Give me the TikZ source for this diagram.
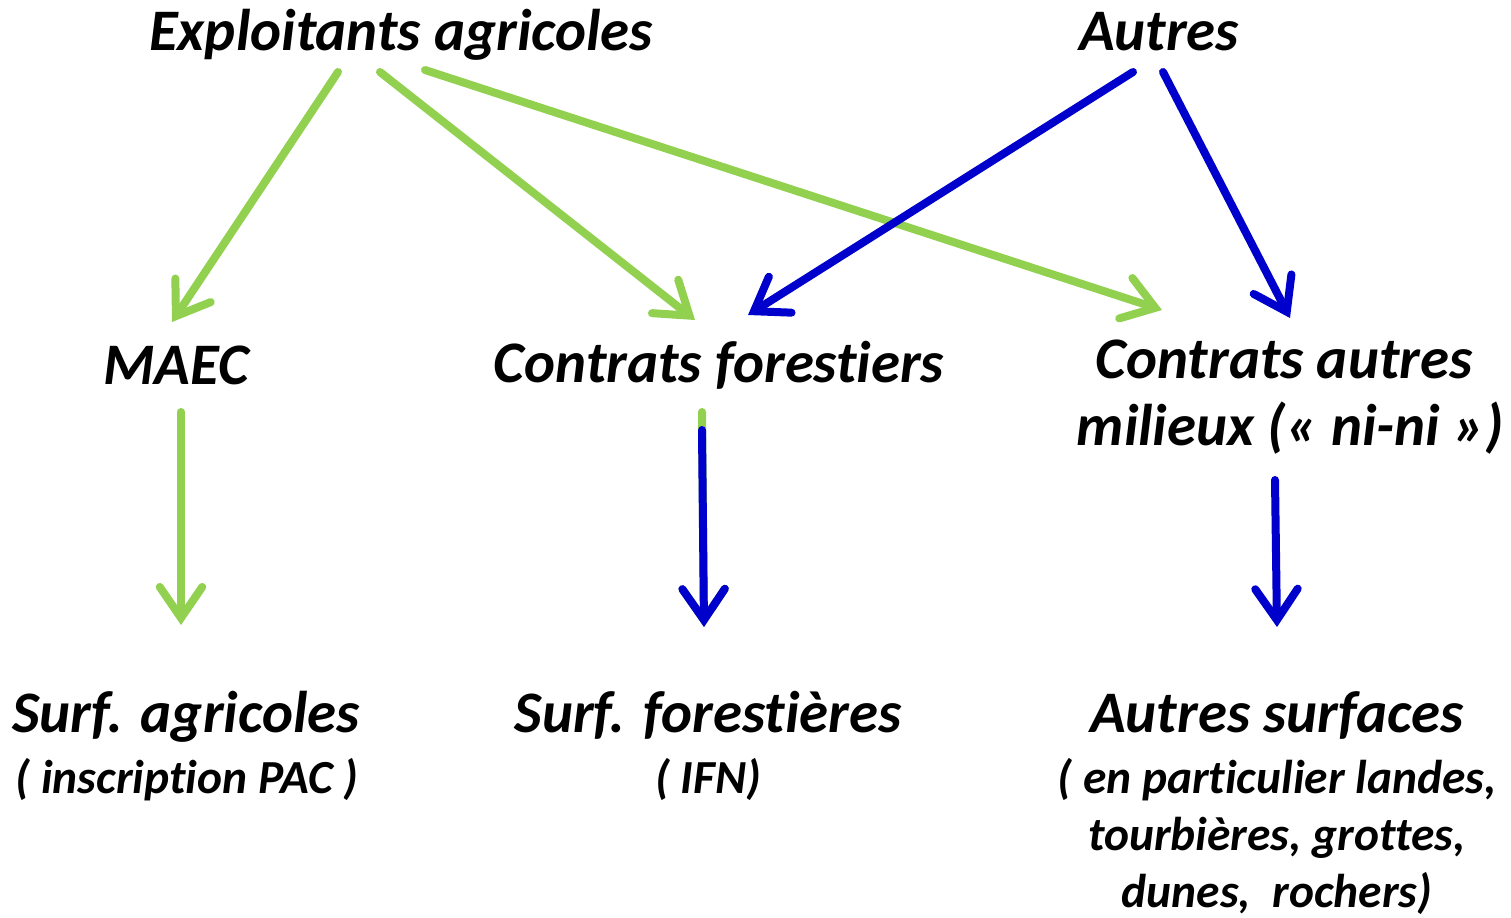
\documentclass[tikz,border=0pt]{standalone}
\usepackage{fontspec}
\setmainfont{Carlito}[RawFeature={-liga;-clig;-calt;-dlig}]
\usetikzlibrary{arrows.meta}
\definecolor{vert}{HTML}{92D050}
\definecolor{bleu}{HTML}{0000CC}
\begin{document}
\begin{tikzpicture}[x=0.02cm,y=-0.02cm,
  big/.style={font=\fontsize{33.5}{40}\selectfont\bfseries\itshape, anchor=base, inner sep=0pt},
  small/.style={font=\fontsize{27}{31}\selectfont\bfseries\itshape, anchor=base, inner sep=0pt},
  arr/.style={line width=0.16cm, line cap=round, -{Straight Barb[length=0.62cm, width=0.85cm, line cap=round]}},
  g/.style={arr, draw=vert},
  b/.style={arr, draw=bleu}]
\useasboundingbox (0,0) rectangle (1511,917);
\node[big] (expl) at (401,50) {Exploitants agricoles};
\node[big] (autres) at (1159,50) {Autres};
\node[big] (maec) at (176,384) {MAEC};
\node[big] (cf) at (719,382) {Contrats forestiers};
\node[big] (ca1) at (1284,378) {Contrats autres};
\node[big] (ca2) at (1290,445) {milieux (« ni-ni »)};
\node[big] (sa) at (186,732) {Surf. agricoles};
\node[small] (sa2) at (187,793) {( inscription PAC )};
\node[big] (sf) at (708,732) {Surf. forestières};
\node[small] (sf2) at (708,793) {( IFN)};
\node[big] (as) at (1277,732) {Autres surfaces};
\node[small] (as2) at (1277,793) {( en particulier landes,};
\node[small] (as3) at (1277,850) {tourbières, grottes,};
\node[small] (as4) at (1277,907) {dunes,~ rochers)};
% endpoints
\coordinate (e1) at (338,72); \coordinate (t1) at (172,322);
\coordinate (e2) at (380,72); \coordinate (t2) at (695,320);
\coordinate (e3) at (425,70); \coordinate (t3) at (1162,310);
\coordinate (e4) at (1133,72); \coordinate (t4) at (748,315);
\coordinate (e5) at (1163,72); \coordinate (t5) at (1290,318);
\coordinate (e6) at (181,412); \coordinate (t6) at (181,625);
\coordinate (e7) at (702,412); \coordinate (e7b) at (702,430); \coordinate (t7) at (704,627);
\coordinate (e8) at (1275,480); \coordinate (t8) at (1277,627);
\draw[g] (e1) -- (t1);
\draw[g] (e2) -- (t2);
\draw[g] (e3) -- (t3);
\draw[b] (e4) -- (t4);
\draw[b] (e5) -- (t5);
\draw[g] (e6) -- (t6);
\draw[g] (e7) -- (t7);
\draw[b] (e7b) -- (t7);
\draw[b] (e8) -- (t8);
\end{tikzpicture}
\end{document}
